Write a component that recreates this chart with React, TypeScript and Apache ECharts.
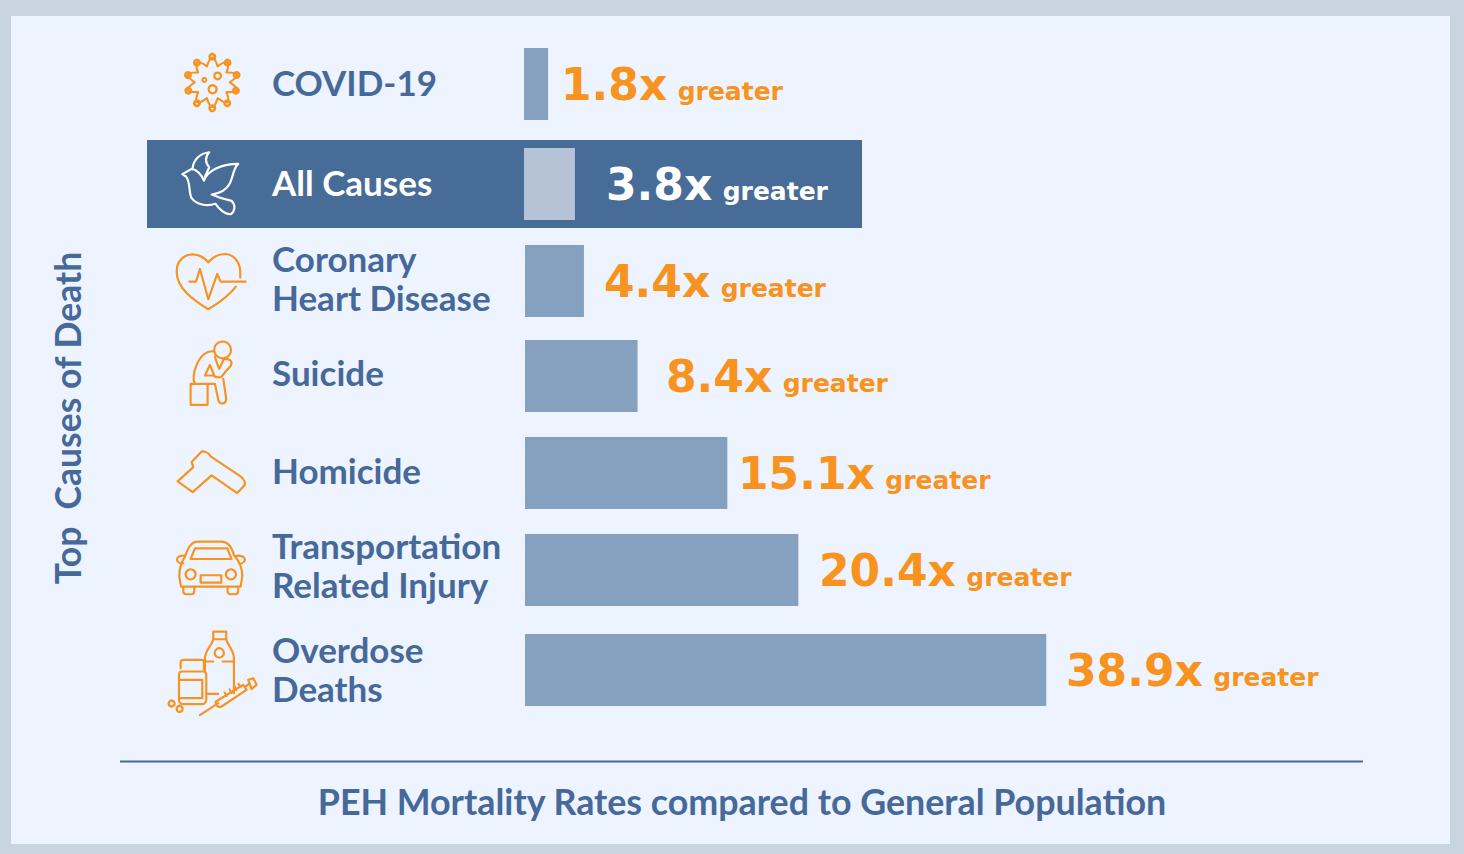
import React, { useEffect, useRef } from "react";
import * as echarts from "echarts";

const categories = ["COVID-19", "All Causes", "Coronary\nHeart Disease", "Suicide", "Homicide", "Transportation\nRelated Injury", "Overdose\nDeaths"];
const ratios = [1.8, 3.8, 4.4, 8.4, 15.1, 20.4, 38.9];
const suffix = "greater";
const yTitle = "Top  Causes of Death";
const xTitle = "PEH Mortality Rates compared to General Population";
const highlighted = "All Causes";

const rowCenter = [84, 184, 281, 376, 473, 570, 670];
const rowLeft = [524, 524, 525, 525, 525, 525, 525];
const labelStart = [561, 606, 604, 666, 738, 819, 1066];
const labelLift = [2, 2, 4, 4, 3, 6, 2];
const pxPerUnit = 13.4;
const axisMax = 40;
const ORANGE = "#F7931E";
const BLUE = "#46699A";
const BAND = "#466C97";
const BAR = "#86A0BF";
const BAR_HI = "#B6C3D6";
const PANEL = "#EDF4FF";
const FRAME = "#C8D5E1";
const SANS = 'Lato, "Open Sans", sans-serif';
const NUM = '"DejaVu Sans", Verdana, sans-serif';

function virusPath() {
  const cx = 187, cy = 127, n = 10;
  const pt = (r: number, deg: number) => {
    const a = (deg * Math.PI) / 180;
    return `${(cx + r * 1.05 * Math.cos(a)).toFixed(1)} ${(cy + r * Math.sin(a)).toFixed(1)}`;
  };
  let d = `M${pt(50, -108)}`;
  for (let i = 0; i < n; i++) {
    const deg = -90 + (360 / n) * i;
    d += ` Q${pt(100, deg)} ${pt(50, deg + 18)}`;
  }
  return d + " Z";
}

const iconPaths: Record<string, string> = {
  virusBody: virusPath(),
  dove: "M97 403 L125 387 C140 388 155 405 162 422 C172 395 210 372 265 372 C250 385 250 410 240 430 C230 450 210 460 185 464 C210 475 230 480 245 483 C258 495 255 515 243 523 C225 525 205 505 197 492 C170 500 140 495 125 475 C115 455 122 425 108 410 Z M128 385 C130 360 150 340 178 337 C165 350 165 370 178 382 L165 410",
  heart: "M258 155 C235 185 200 208 175 223 C130 195 80 160 80 110 C80 75 105 58 128 58 C148 58 165 70 175 82 C190 65 205 57 225 57 C250 57 270 80 271 110 L271 128 M118 140 H138 L150 102 L175 193 L202 117 L212 140 H287",
  thinker: "M193 350 C170 345 150 365 140 390 C130 415 128 435 135 447 H195 L205 495 C208 510 228 510 229 492 L220 432 M195 365 C200 385 205 395 208 402 L222 372 C235 372 250 375 243 392 L215 425 C205 432 195 425 190 422 H165 L180 390 L193 422 M122 447 H173 V510 H122 Z",
  gun: "M83 740 L130 697 L125 682 L155 650 C165 650 178 655 182 665 L272 725 C285 735 290 750 280 755 L262 775 L185 722 L128 772 Z",
  car: "M105 80 C115 50 125 35 145 35 H215 C235 35 245 50 252 75 C265 90 278 115 277 140 L272 170 H93 L88 140 C88 115 95 95 105 80 Z M122 87 L135 55 H232 L245 87 Z M105 78 C95 75 80 80 81 90 C83 98 92 102 100 100 M258 78 C270 75 285 80 285 90 C283 98 275 102 267 100 M152 136 H214 V158 H152 Z M100 170 V185 C100 192 105 193 110 193 H125 C132 193 133 188 133 182 V170 M233 170 V185 C233 192 238 193 243 193 H257 C264 193 265 188 265 182 V170",
  meds: "M190 328 V305 H229 V328 H190 M190 328 C188 345 165 360 165 385 V425 M229 328 C232 345 252 360 252 385 V490 M165 395 H190 M218 395 H252 M172 492 H205 M92 415 V398 C92 392 98 390 102 390 H155 C160 390 162 395 162 400 V418 M95 425 H160 C167 425 169 430 169 437 V510 C169 520 160 523 155 523 H100 C90 523 87 515 87 510 V437 C87 430 90 425 95 425 M87 450 H157 V505 H87 M150 556 L205 520 M198 515 L280 465 L290 480 L215 530 C205 535 195 525 198 515 M285 472 L300 460 M295 450 L310 445 L320 465 L305 478 Z M230 498 L224 488 M245 489 L239 479 M260 480 L254 470 M272 472 L266 462",
};
Object.keys(iconPaths).forEach((k) => {
  echarts.graphic.registerShape(k, echarts.graphic.extendPath(iconPaths[k], {}) as any);
});

function icon(name: string, x: number, y: number, color: string, extra: any[] = []) {
  const style = { fill: "none", stroke: color, lineWidth: 6.5, lineJoin: "round", lineCap: "round" };
  return {
    type: "group", x, y, scaleX: 1 / 3, scaleY: 1 / 3,
    children: [
      { type: name, z: 5, style },
      ...extra.map(([cx, cy, r, sw]) => ({ type: "circle", z: 5, shape: { cx, cy, r }, style: { ...style, lineWidth: sw ?? 6.5 } })),
    ],
  };
}

const virusCircles: number[][] = [
  [188, 148, 12, 7], [163, 120, 6, 6], [203, 108, 10, 7],
  [187, 50, 8, 8], [233, 68, 8, 8], [260, 105, 8, 8], [258, 152, 8, 8], [232, 190, 8, 8],
  [187, 205, 8, 8], [141, 190, 8, 8], [115, 152, 8, 8], [114, 105, 8, 8], [141, 68, 8, 8],
];

export default function App() {
  const ref = useRef<HTMLDivElement>(null);
  useEffect(() => {
    const chart = echarts.init(ref.current!, null, { renderer: "svg" });
    const grid = categories.map((_, i) => ({
      left: rowLeft[i], top: rowCenter[i] - 36, height: 72, width: pxPerUnit * axisMax, containLabel: false,
    }));
    const xAxis = categories.map((_, i) => ({
      type: "value", gridIndex: i, min: 0, max: axisMax, show: false,
    }));
    const yAxis = categories.map((c, i) => ({
      type: "category", gridIndex: i, data: [c],
      axisLine: { show: false }, axisTick: { show: false }, splitLine: { show: false }, axisLabel: { show: false },
    }));
    const rowLabels = categories.map((c, i) => ({
      type: "text", z: 6, x: 272, y: rowCenter[i] - labelLift[i],
      style: {
        text: c, fill: c === highlighted ? "#FFFFFF" : BLUE,
        font: `700 35px ${SANS}`, lineHeight: 39, textAlign: "left", textVerticalAlign: "middle",
      },
    }));
    const series = categories.map((c, i) => {
      const hi = c === highlighted;
      const end = rowLeft[i] + ratios[i] * pxPerUnit;
      const color = hi ? "#FFFFFF" : ORANGE;
      return {
        type: "bar", xAxisIndex: i, yAxisIndex: i, barWidth: 72, silent: true,
        data: [{
          value: ratios[i],
          itemStyle: { color: hi ? BAR_HI : BAR },
          label: {
            show: true, position: "right", distance: labelStart[i] - end,
            formatter: `{n|${ratios[i].toFixed(1)}x} {g|${suffix}}`,
            rich: {
              n: { fontFamily: NUM, fontWeight: "bold", fontSize: 44, color, lineHeight: 52 },
              g: { fontFamily: NUM, fontWeight: "bold", fontSize: 25, color, lineHeight: 52, padding: [14, 0, 0, 7] },
            },
          },
        }],
      };
    });
    chart.setOption({
      animation: false,
      backgroundColor: FRAME,
      tooltip: { show: false },
      grid, xAxis, yAxis, series,
      graphic: [
        { type: "rect", z: 0, shape: { x: 11, y: 16, width: 1439, height: 828 }, style: { fill: PANEL } },
        { type: "rect", z: 1, shape: { x: 147, y: 140, width: 715, height: 88 }, style: { fill: BAND } },
        { type: "line", z: 1, shape: { x1: 120, y1: 761.5, x2: 1363, y2: 761.5 }, style: { stroke: BLUE, lineWidth: 2 } },
        ...rowLabels,
        {
          type: "text", z: 5, x: 67, y: 418, rotation: Math.PI / 2,
          style: { text: yTitle, fill: BLUE, font: `700 35.5px ${SANS}`, textAlign: "center", textVerticalAlign: "middle" },
        },
        {
          type: "text", z: 5, x: 742, y: 801,
          style: { text: xTitle, fill: BLUE, font: `700 35.8px ${SANS}`, textAlign: "center", textVerticalAlign: "middle" },
        },
        icon("virusBody", 150, 40, ORANGE, virusCircles),
        icon("dove", 150, 40, "#FFFFFF"),
        icon("heart", 150, 235, ORANGE),
        icon("thinker", 150, 235, ORANGE, [[218, 345, 25, 6.5]]),
        icon("gun", 150, 235, ORANGE),
        icon("car", 150, 530, ORANGE, [[122, 133, 15, 6.5], [243, 133, 15, 6.5]]),
        icon("meds", 150, 530, ORANGE, [[208, 369, 14, 6.5], [65, 521, 9, 7], [89, 537, 9, 7]]),
      ],
    });
    return () => chart.dispose();
  }, []);
  return (
    <div style={{ position: "fixed", left: 0, top: 0, width: 1464, height: 854 }}>
      <div ref={ref} style={{ width: 1464, height: 854 }} />
    </div>
  );
}
